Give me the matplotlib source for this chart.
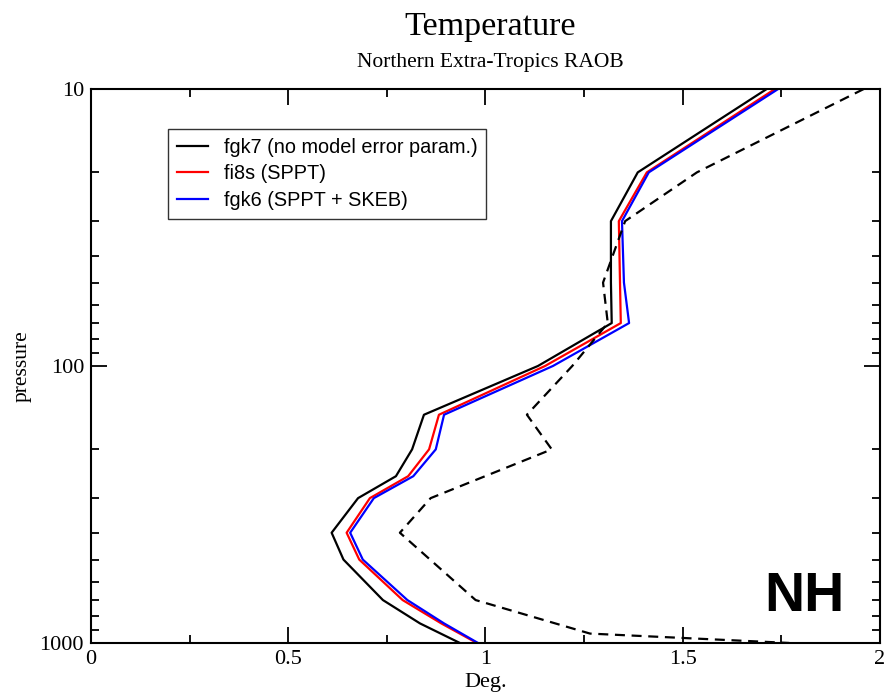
import matplotlib.pyplot as plt
from matplotlib.ticker import FixedLocator, LogLocator, NullFormatter

# pressure levels (hPa)
levels = [10, 20, 30, 50, 70, 100, 150, 200, 250, 300, 400, 500, 700, 850, 1000]
fgk7 = [1.713, 1.386, 1.318, 1.318, 1.320, 1.133, 0.844, 0.814, 0.773, 0.677, 0.610, 0.640, 0.740, 0.834, 0.935]
fi8s = [1.734, 1.409, 1.338, 1.341, 1.343, 1.151, 0.882, 0.857, 0.804, 0.707, 0.648, 0.680, 0.790, 0.888, 0.978]
fgk6 = [1.742, 1.414, 1.346, 1.351, 1.364, 1.171, 0.895, 0.874, 0.817, 0.717, 0.657, 0.689, 0.802, 0.895, 0.981]

# dashed reference curve
ref_levels = [10, 20, 30, 50, 70, 100, 150, 200, 300, 400, 700, 925, 1000]
ref = [1.959, 1.536, 1.354, 1.298, 1.310, 1.220, 1.105, 1.168, 0.861, 0.783, 0.975, 1.265, 1.770]

serif = 'Liberation Serif'
sans = 'Liberation Sans'

fig = plt.figure(figsize=(8.86, 6.93), dpi=100)
ax = fig.add_axes([0.1027, 0.0722, 0.8905, 0.7994])

ax.plot(fgk7, levels, color='black', lw=1.6, label='fgk7 (no model error param.)')
ax.plot(fi8s, levels, color='red', lw=1.6, label='fi8s (SPPT)')
ax.plot(fgk6, levels, color='blue', lw=1.6, label='fgk6 (SPPT + SKEB)')
ax.plot(ref, ref_levels, color='black', lw=1.6, ls=(0, (4.5, 3)))

ax.set_yscale('log')
ax.set_ylim(1000, 10)
ax.set_xlim(0, 2)

ax.xaxis.set_major_locator(FixedLocator([0, 0.5, 1, 1.5, 2]))
ax.xaxis.set_minor_locator(FixedLocator([0.25, 0.75, 1.25, 1.75]))
ax.set_xticklabels(['0', '0.5', '1', '1.5', '2'])
ax.yaxis.set_major_locator(FixedLocator([10, 100, 1000]))
ax.yaxis.set_minor_locator(LogLocator(base=10, subs=range(2, 10)))
ax.yaxis.set_minor_formatter(NullFormatter())
ax.set_yticklabels(['10', '100', '1000'])

ax.tick_params(which='both', direction='in', top=True, right=True, width=1.3)
ax.tick_params(which='major', length=11.5, pad=5, labelsize=16)
ax.tick_params(which='minor', length=5.5)
for lab in ax.get_xticklabels() + ax.get_yticklabels():
    lab.set_fontfamily(serif)
for s in ax.spines.values():
    s.set_linewidth(1.5)

ax.set_xlabel('Deg.', family=serif, fontsize=16, labelpad=3)
ax.set_ylabel('pressure', family=serif, fontsize=15.5, labelpad=6)

fig.text(0.5535, 0.962, 'Temperature', family=serif, fontsize=24.5, ha='center', va='center')
fig.text(0.5535, 0.910, 'Northern Extra-Tropics RAOB', family=serif, fontsize=15.5, ha='center', va='center')

leg = ax.legend(loc='upper left', bbox_to_anchor=(0.0976, 0.928), prop={'family': sans, 'size': 14.3},
                frameon=True, fancybox=False, edgecolor='black', handlelength=1.55,
                handletextpad=0.8, labelspacing=0.38, borderpad=0.45, borderaxespad=0)
leg.get_frame().set_linewidth(1.0)

ax.text(0.904, 0.083, 'NH', transform=ax.transAxes, family=sans, fontweight='bold',
        fontsize=40, ha='center', va='center')

plt.savefig('out.png')
